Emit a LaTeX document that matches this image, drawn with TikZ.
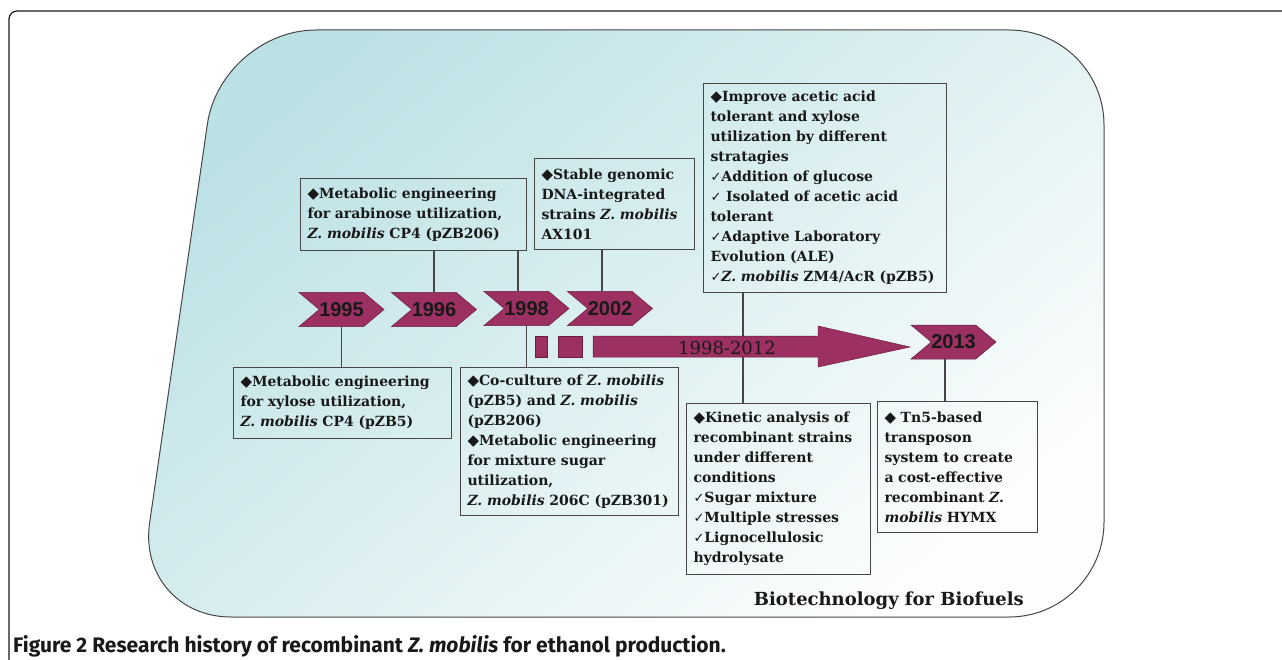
\documentclass[tikz,border=0pt]{standalone}
\usepackage{fontspec}
\setmainfont{DejaVu Serif}
\newfontfamily\symfont{DejaVu Sans}
\newfontfamily\yearfont{Liberation Sans}
\newfontfamily\capfont{Fira Sans}
\usetikzlibrary{shapes.symbols}

\definecolor{plum}{RGB}{156,48,98}
\definecolor{plumdark}{RGB}{105,30,62}
\definecolor{bgteal}{RGB}{188,225,229}
\definecolor{bgwhite}{RGB}{252,253,253}
\definecolor{linegray}{RGB}{70,70,70}
\definecolor{inkblack}{RGB}{25,25,25}

\newcommand{\dmd}{{\symfont\fontsize{15}{20}\selectfont ◆}}
\newcommand{\chk}{{\symfont\fontsize{13}{20}\selectfont ✓}}

\tikzset{
  note/.style={draw=linegray, line width=1pt, anchor=north west, align=left,
    inner xsep=7pt, inner ysep=0pt, text=inkblack,
    font=\fontsize{14}{20}\selectfont\bfseries},
  year/.style={signal, signal to=east, signal from=west, signal pointer angle=80,
    fill=plum, draw=plumdark, line width=.5pt, minimum width=83pt,
    minimum height=34pt, inner sep=0pt, text=inkblack,
    font=\yearfont\fontsize{20}{20}\selectfont\bfseries},
  link/.style={draw=linegray, line width=1.2pt}
}

\begin{document}
\begin{tikzpicture}[x=1pt,y=-1pt]
\useasboundingbox (0,0) rectangle (1282,660);

% frame and background
\draw[inkblack, line width=1.2pt, rounded corners=8pt] (9,660) -- (9,11) -- (1282,11);
\shade[draw=linegray, line width=1pt, rounded corners=95pt, top color=bgteal,
  bottom color=bgwhite, shading angle=40]
  (221,30) -- (1104,30) -- (1104,617) -- (136,617) -- cycle;

% boxes
\node[note, text width=212pt, minimum height=72pt] (arab) at (300,178)
  {\dmd Metabolic engineering\\ for arabinose utilization,\\ \textit{Z. mobilis} CP4 (pZB206)};
\node[note, text width=146pt, minimum height=91pt] (ax101) at (534,158)
  {\dmd Stable genomic\\ DNA-integrated\\ strains \textit{Z. mobilis}\\ AX101};
\node[note, text width=229pt, minimum height=209pt] (acetic) at (703,83)
  {\dmd Improve acetic acid\\ tolerant and xylose\\ utilization by different\\ stratagies\\
   \chk Addition of glucose\\ \chk\ Isolated of acetic acid\\ tolerant\\
   \chk Adaptive Laboratory\\ Evolution (ALE)\\ \chk\textit{Z. mobilis} ZM4/AcR (pZB5)};
\node[note, text width=204pt, minimum height=71pt] (xyl) at (233,367)
  {\dmd Metabolic engineering\\ for xylose utilization,\\ \textit{Z. mobilis} CP4 (pZB5)};
\node[note, text width=204pt, minimum height=148pt] (cocult) at (460,367)
  {\dmd Co-culture of \textit{Z. mobilis}\\ (pZB5) and \textit{Z. mobilis}\\ (pZB206)\\
   \dmd Metabolic engineering\\ for mixture sugar\\ utilization,\\ \textit{Z. mobilis} 206C (pZB301)};
\node[note, text width=170pt, minimum height=171pt] (kinetic) at (686,403)
  {\dmd Kinetic analysis of\\ recombinant strains\\ under different\\ conditions\\
   \chk Sugar mixture\\ \chk Multiple stresses\\ \chk Lignocellulosic\\ hydrolysate};
\node[note, text width=146pt, minimum height=131pt] (tn5) at (877,401)
  {\dmd\ Tn5-based\\ transposon\\ system to create\\ a cost-effective\\
   recombinant \textit{Z.}\\ \textit{mobilis} HYMX};

% years
\node[year] (y95) at (341.5,309.5) {1995};
\node[year] (y96) at (434,309.5) {1996};
\node[year] (y98) at (526.5,308.5) {1998};
\node[year] (y02) at (610,308.5) {2002};
\node[year] (y13) at (953.5,342) {2013};

% links
\draw[link] (y95.south) -- (y95.south |- xyl.north);
\draw[link] (y96.north) -- (y96.north |- arab.south);
\draw[link] ([xshift=-8.5pt]y98.north) -- ([xshift=-8.5pt]y98.north |- arab.south);
\draw[link] (y98.south) -- (y98.south |- cocult.north);
\draw[link] ([xshift=-8pt]y02.north) -- ([xshift=-8pt]y02.north |- ax101.south);
\draw[link] ([xshift=40pt]acetic.south west) -- ([xshift=40pt]acetic.south west |- kinetic.north);
\draw[link] ([xshift=-8.5pt]y13.south) -- ([xshift=-8.5pt]y13.south |- tn5.north);

% span arrow
\filldraw[fill=plum, draw=plumdark, line width=.5pt] (535,336) rectangle (547,357);
\filldraw[fill=plum, draw=plumdark, line width=.5pt] (558,336) rectangle (582,357);
\filldraw[fill=plum, draw=plumdark, line width=.5pt]
  (593,336) -- (818,336) -- (818,326) -- (910,347) -- (818,367) -- (818,357) -- (593,357) -- cycle;
\node[text=inkblack, font=\fontsize{18}{18}\selectfont] (span) at (727,348) {1998-2012};

% labels
\node[anchor=base east, inner sep=0pt, text=inkblack, font=\fontsize{18}{18}\selectfont\bfseries]
  (journal) at (1024,605) {Biotechnology for Biofuels};
\node[anchor=base west, inner sep=0pt, text=inkblack, font=\capfont\fontsize{21}{21}\selectfont\bfseries]
  (cap) at (13,652) {Figure 2 Research history of recombinant \textit{Z. mobilis} for ethanol production.};
\end{tikzpicture}
\end{document}
